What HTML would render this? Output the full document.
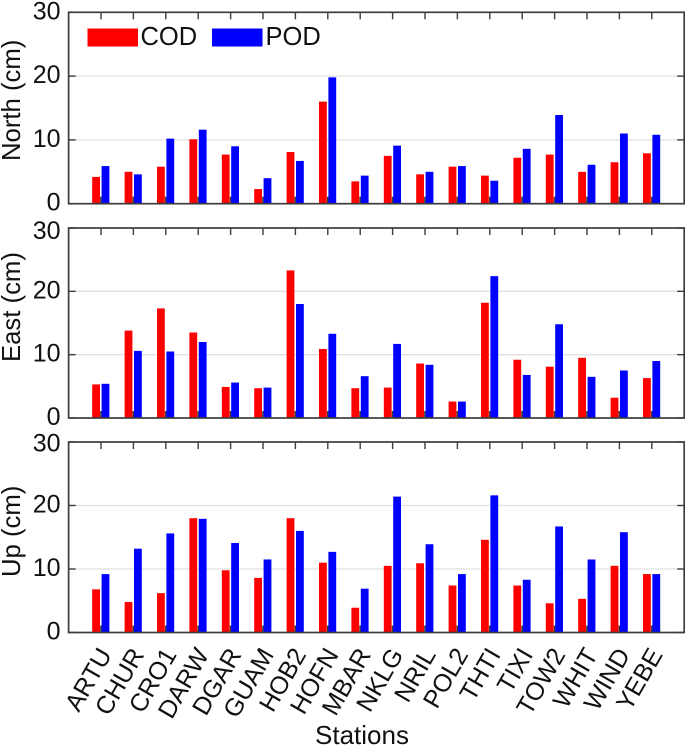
<!DOCTYPE html>
<html>
<head>
<meta charset="utf-8">
<style>
html,body{margin:0;padding:0;background:#fff;}
svg{display:block;font-family:"Liberation Sans",Arial,sans-serif;}
</style>
</head>
<body>
<svg id="chart" width="685" height="746" viewBox="0 0 685 746" xmlns="http://www.w3.org/2000/svg">
<g id="legend">
<rect x="87.5" y="28.5" width="50.5" height="18" fill="#ff0000"/>
<text x="140.5" y="45" font-size="25.5" fill="#111">COD</text>
<rect x="212" y="28.5" width="50.5" height="18" fill="#0000ff"/>
<text x="265.5" y="45" font-size="25.5" fill="#111">POD</text>
</g>
<text x="362" y="744" font-size="26" text-anchor="middle" fill="#111">Stations</text>
</svg>
<script>
const stations = ["ARTU","CHUR","CRO1","DARW","DGAR","GUAM","HOB2","HOFN","MBAR","NKLG","NRIL","POL2","THTI","TIXI","TOW2","WHIT","WIND","YEBE"];
const yTicks = [0,10,20,30];
const northCOD = [4.2,5.0,5.8,10.1,7.7,2.3,8.1,16.0,3.5,7.5,4.6,5.8,4.4,7.2,7.7,5.0,6.5,7.9];
const northPOD = [5.9,4.6,10.2,11.6,9.0,4.0,6.7,19.8,4.4,9.1,5.0,5.9,3.6,8.6,13.9,6.1,11.0,10.8];
const eastCOD = [5.3,13.8,17.3,13.5,4.9,4.7,23.3,10.9,4.7,4.8,8.6,2.6,18.2,9.2,8.1,9.5,3.2,6.3];
const eastPOD = [5.4,10.6,10.5,12.0,5.6,4.8,18.0,13.3,6.6,11.7,8.4,2.6,22.4,6.8,14.8,6.5,7.5,9.0];
const upCOD = [6.8,4.8,6.2,18.0,9.8,8.6,18.0,11.0,3.9,10.5,10.9,7.4,14.6,7.4,4.6,5.3,10.5,9.2];
const upPOD = [9.2,13.2,15.6,17.9,14.1,11.5,16.0,12.7,6.9,21.4,13.9,9.2,21.6,8.3,16.7,11.5,15.8,9.2];

const NS = "http://www.w3.org/2000/svg";
const svg = document.getElementById("chart");
const legendNode = document.getElementById("legend");
const LEFT = 68.6, RIGHT = 684.2, AXIS = "#3c3c3c";
const xScale = i => LEFT + (i + 1) * (RIGHT - LEFT) / (stations.length + 1);

function make(tag, attrs, parent) {
  const el = document.createElementNS(NS, tag);
  for (const k in attrs) el.setAttribute(k, attrs[k]);
  parent.appendChild(el);
  return el;
}

function drawPanel(title, top, bottom, cod, pod, showLabels, titleStart, topLabelDy) {
  const yScale = v => bottom - v * (bottom - top) / 30;
  const g = make("g", {}, svg);
  
  
  svg.insertBefore(g, legendNode);

  yTicks.forEach(t => {
    if (t > 0 && t < 30) {
      const grid = make("line", {x1: LEFT, x2: RIGHT, y1: yScale(t), y2: yScale(t), stroke: "#e0e0e0", "stroke-width": 1.3}, g);
      
      
    }
  });

  stations.forEach((s, i) => {
    const x = xScale(i);
    const topTick = make("line", {x1: x, x2: x, y1: top, y2: top + 7, stroke: AXIS, "stroke-width": 1.4}, g);
    
    
    const botTick = make("line", {x1: x, x2: x, y1: bottom, y2: bottom - 7, stroke: AXIS, "stroke-width": 1.7}, g);
    
    

    const red = make("rect", {x: x - 8.8, y: yScale(cod[i]), width: 7.8, height: bottom - yScale(cod[i]), fill: "#ff0000"}, g);
    
    
    const blue = make("rect", {x: x + 0.6, y: yScale(pod[i]), width: 7.8, height: bottom - yScale(pod[i]), fill: "#0000ff"}, g);
    
    

    if (showLabels) {
      const lx = x + 11.5, ly = bottom + 22;
      const label = make("text", {x: lx, y: ly, "font-size": 25, fill: "#111", "text-anchor": "end", transform: "rotate(-60 " + lx + " " + ly + ")"}, g);
      
      
      label.textContent = s;
    }
  });

  yTicks.forEach(t => {
    const y = yScale(t);
    const tl = make("line", {x1: LEFT, x2: LEFT + 7, y1: y, y2: y, stroke: AXIS, "stroke-width": 1.4}, g);
    
    
    const tr = make("line", {x1: RIGHT, x2: RIGHT - 7, y1: y, y2: y, stroke: AXIS, "stroke-width": 1.4}, g);
    
    
    const lab = make("text", {x: 60.5, y: y + (t === 30 ? topLabelDy : 7), "font-size": 25, fill: "#111", "text-anchor": "end"}, g);
    
    
    lab.textContent = t;
  });

  const frame = make("rect", {x: LEFT, y: top, width: RIGHT - LEFT, height: bottom - top, fill: "none", stroke: AXIS, "stroke-width": 1.7}, g);
  
  

  const yt = make("text", {x: 20, y: titleStart, "font-size": 25.7, fill: "#111", "text-anchor": "start", transform: "rotate(-90 20 " + titleStart + ")"}, g);
  
  
  yt.textContent = title;
}

drawPanel("North (cm)", 12.3, 203.7, northCOD, northPOD, false, 161, 7);
drawPanel("East (cm)", 228, 418, eastCOD, eastPOD, false, 362, 11);
drawPanel("Up (cm)", 442, 632.5, upCOD, upPOD, true, 577, 9.7);
</script>
</body>
</html>
